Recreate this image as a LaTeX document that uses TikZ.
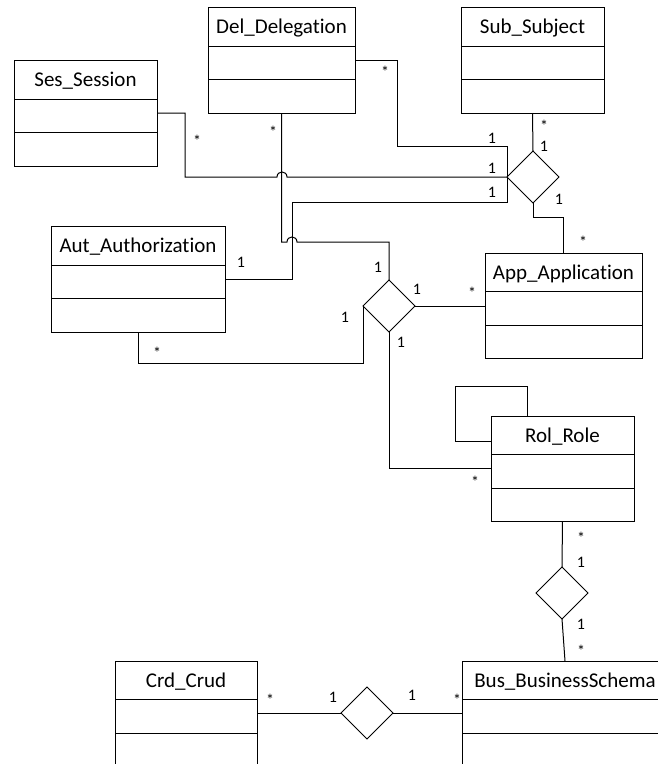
\documentclass[tikz,border=0pt]{standalone}
\usepackage{fontspec}
\setmainfont{Carlito}[Ligatures={NoCommon}]
\usetikzlibrary{shapes.geometric,calc}
\tikzset{
  clsbox/.style={draw, line width=1pt, rectangle, inner sep=0pt, outer sep=0pt},
  clstitle/.style={anchor=base, inner sep=0pt, font=\fontsize{21}{21}\selectfont},
  rel/.style={draw, diamond, line width=1pt, minimum width=52pt, minimum height=52pt, inner sep=0pt, outer sep=0pt},
  conn/.style={line width=1pt},
  mult/.style={anchor=base, inner sep=0pt, font=\fontsize{16}{16}\selectfont},
}
% class box: name, x1, y1, x2, y2, first divider, second divider, title
\newcommand\umlclass[8]{%
  \pgfmathsetmacro\clsW{#4-#2}\pgfmathsetmacro\clsH{#5-#3}%
  \node[clsbox, minimum width=\clsW pt, minimum height=\clsH pt] (#1) at ({(#2+#4)/2},{(#3+#5)/2}) {};
  \draw[conn] (#2,#6) -- (#4,#6) (#2,#7) -- (#4,#7);
  \node[clstitle] (#1-t) at ({(#2+#4)/2},{#3+26.5}) {#8};
}
\begin{document}
\begin{tikzpicture}[x=1pt,y=-1pt]
\useasboundingbox (0,0) rectangle (658,764);
\clip (0,0) rectangle (658,764);

% classes
\umlclass{ses}{14}{60}{157}{166}{99}{132}{Ses\_Session}
\umlclass{del}{208}{7}{355}{113}{46}{79}{Del\_Delegation}
\umlclass{sub}{461}{7}{604}{113}{46}{79}{Sub\_Subject}
\umlclass{aut}{51}{226}{225}{332}{265}{298}{Aut\_Authorization}
\umlclass{app}{485}{253}{642}{358}{291}{325}{App\_Application}
\umlclass{rol}{491}{416}{634}{521}{454}{488}{Rol\_Role}
\umlclass{crd}{115}{661}{257}{790}{699}{733}{Crd\_Crud}
\umlclass{bus}{462}{661}{668}{790}{699}{733}{Bus\_BusinessSchema}

% relationships
\node[rel] (d1) at (533,177) {};
\node[rel] (d2) at (389,306) {};
\node[rel] (d3) at (562,593) {};
\node[rel] (d4) at (367,713) {};

% connectors around the upper relationship
\draw[conn] (ses.east) -| (185,177) -- (277,177)
  .. controls (277,170.3) and (287,170.3) .. (287,177) -- (d1.west);
\draw[conn] (del.east) -| (397,146) -- (507,146) -- (d1.west);
\draw[conn] (aut.east) -| (292,202) -- (507,202) -- (d1.west);
\draw[conn] (sub.south) -- (d1.north);
\draw[conn] (d1.south) -- ++(0,14) -| (app.north);

% connectors around the middle relationship
\draw[conn] (del.south) -- (281.5,242) -- (287,242)
  .. controls (287,235.3) and (297,235.3) .. (297,242) -| (d2.north);
\draw[conn] (aut.south) |- (363,363) -- (d2.west);
\draw[conn] (d2.east) -- (d2.east -| app.west);
\draw[conn] (d2.south) |- (rol.west);

% role hierarchy
\draw[conn] ([yshift=-25pt]rol.north west) -- ++(-36,0) -- ++(0,-55) -- ++(72,0) -- ([xshift=36pt]rol.north west);
\draw[conn] (rol.south) -- (d3.north);
\draw[conn] (d3.south) -- (bus.north);

% crud link
\draw[conn] (d4.west) -- (d4.west -| crd.east);
\draw[conn] (d4.east) -- (d4.east -| bus.west);

% multiplicities
\node[mult] (m1) at (197,146) {*};
\node[mult] (m2) at (273,137) {*};
\node[mult] (m3) at (385,77) {*};
\node[mult] (m4) at (492,143) {1};
\node[mult] (m5) at (492,173) {1};
\node[mult] (m6) at (492,197) {1};
\node[mult] (m7) at (544,131) {*};
\node[mult] (m8) at (544,151) {1};
\node[mult] (m9) at (559,204) {1};
\node[mult] (m10) at (583,247) {*};
\node[mult] (m11) at (241,267) {1};
\node[mult] (m12) at (378,272) {1};
\node[mult] (m13) at (417,294) {1};
\node[mult] (m14) at (345,322) {1};
\node[mult] (m15) at (401,347) {1};
\node[mult] (m16) at (472,298) {*};
\node[mult] (m17) at (157,358) {*};
\node[mult] (m18) at (475,487) {*};
\node[mult] (m19) at (581,543) {*};
\node[mult] (m20) at (581,567) {1};
\node[mult] (m21) at (581,629) {1};
\node[mult] (m22) at (581,656) {*};
\node[mult] (m23) at (270,705) {*};
\node[mult] (m24) at (333,702) {1};
\node[mult] (m25) at (412,700) {1};
\node[mult] (m26) at (457,705) {*};
\end{tikzpicture}
\end{document}
